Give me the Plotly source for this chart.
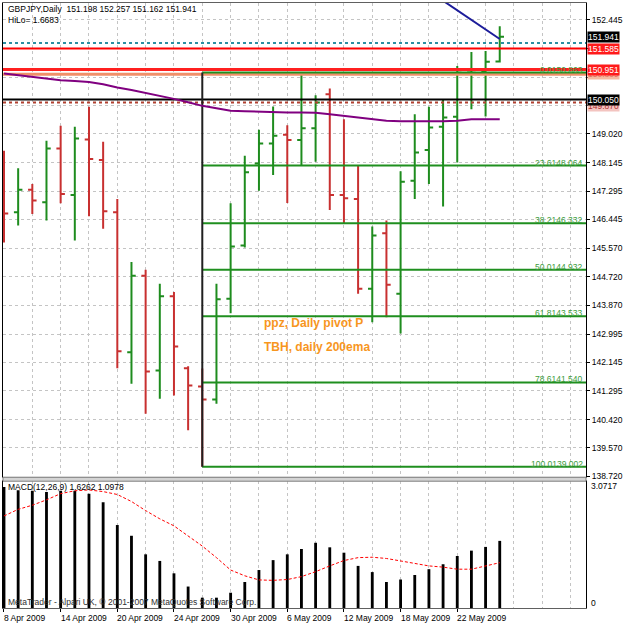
import plotly.graph_objects as go

# ---------------- data ----------------
dates = ["2009-04-08", "2009-04-09", "2009-04-10", "2009-04-13", "2009-04-14", "2009-04-15",
         "2009-04-16", "2009-04-17", "2009-04-20", "2009-04-21", "2009-04-22", "2009-04-23",
         "2009-04-24", "2009-04-27", "2009-04-28", "2009-04-29", "2009-04-30", "2009-05-01",
         "2009-05-04", "2009-05-05", "2009-05-06", "2009-05-07", "2009-05-08", "2009-05-11",
         "2009-05-12", "2009-05-13", "2009-05-14", "2009-05-15", "2009-05-18", "2009-05-19",
         "2009-05-20", "2009-05-21", "2009-05-22", "2009-05-25", "2009-05-26", "2009-05-27"]
opens = [147.00, 146.66, 147.34, 146.96, 148.58, 147.18, 148.85, 148.23, 146.66, 142.45, 144.75, 141.90,
         144.13, 141.97, 141.42, 141.03, 144.06, 145.66, 148.13, 148.73, 148.99, 148.83, 149.19, 150.21,
         147.18, 147.06, 144.36, 146.03, 144.21, 147.61, 148.53, 149.23, 149.53, 150.86, 150.91, 151.198]
highs = [148.51, 147.98, 147.51, 148.81, 149.26, 149.23, 149.83, 148.78, 147.06, 145.16, 144.93, 144.51,
         144.26, 142.03, 141.96, 144.51, 146.93, 148.36, 149.14, 149.84, 149.28, 150.86, 150.18, 150.38,
         149.46, 148.06, 146.23, 146.41, 147.89, 149.61, 149.83, 150.06, 151.06, 151.48, 151.51, 152.257]
lows = [145.75, 146.26, 146.61, 146.41, 146.93, 145.81, 146.54, 146.16, 141.97, 141.50, 140.60, 141.05,
        141.15, 140.10, 139.002, 140.90, 143.62, 145.60, 147.31, 147.78, 146.94, 148.06, 148.18, 146.73,
        146.31, 144.21, 143.35, 143.50, 143.01, 147.06, 147.51, 146.83, 148.16, 149.76, 149.54, 151.162]
closes = [146.62, 147.34, 147.01, 148.58, 147.21, 148.88, 148.26, 146.69, 142.48, 144.75, 141.87, 144.13,
          142.62, 141.45, 141.03, 144.04, 145.63, 147.86, 148.73, 148.96, 148.83, 149.19, 149.96, 147.18,
          147.08, 144.36, 145.96, 144.48, 147.58, 148.46, 149.21, 149.51, 150.93, 150.93, 151.19, 151.941]
ema200 = [150.83, 150.78, 150.71, 150.67, 150.63, 150.61, 150.58, 150.51, 150.41, 150.34, 150.25, 150.18,
          150.07, 149.97, 149.86, 149.79, 149.71, 149.70, 149.68, 149.67, 149.66, 149.66, 149.65, 149.61,
          149.56, 149.49, 149.44, 149.41, 149.40, 149.39, 149.40, 149.40, 149.41, 149.46, 149.46, 149.46]
macd_main = [2.93, 2.85, 2.84, 2.81, 2.84, 2.84, 2.77, 2.56, 2.01, 1.75, 1.30, 1.14,
             0.84, 0.52, 0.25, 0.25, 0.37, 0.63, 0.92, 1.16, 1.30, 1.43, 1.58, 1.47,
             1.34, 1.02, 0.87, 0.63, 0.69, 0.80, 0.94, 1.06, 1.26, 1.39, 1.48, 1.6262]
macd_signal = [2.23, 2.39, 2.49, 2.62, 2.77, 2.84, 2.86, 2.82, 2.75, 2.58, 2.36, 2.16,
               1.99, 1.75, 1.50, 1.22, 0.92, 0.78, 0.68, 0.67, 0.69, 0.76, 0.88, 1.02,
               1.15, 1.22, 1.23, 1.20, 1.14, 1.08, 1.02, 0.99, 0.94, 0.94, 1.02, 1.0978]
macd_max = 3.0717

price_ticks = [138.720, 139.570, 140.420, 141.295, 142.145, 142.995, 143.870, 144.720, 145.570,
               146.445, 147.295, 148.145, 149.020, 149.870, 150.720, 151.595, 152.445]
covered_ticks = [149.870, 150.720, 151.595]   # labels hidden behind the price boxes
label_dates = ["2009-04-08", "2009-04-14", "2009-04-20", "2009-04-24", "2009-04-30",
               "2009-05-06", "2009-05-12", "2009-05-18", "2009-05-22"]
label_texts = ["8 Apr 2009", "14 Apr 2009", "20 Apr 2009", "24 Apr 2009", "30 Apr 2009",
               "6 May 2009", "12 May 2009", "18 May 2009", "22 May 2009"]

fib_pcts = ["0.0", "23.6", "38.2", "50.0", "61.8", "78.6", "100.0"]
fib_prices = [150.863, 148.064, 146.332, 144.932, 143.533, 141.540, 139.002]
fib_anchor_date = "2009-04-28"

level_prices = [151.753, 151.585, 150.951, 150.809, 150.050, 149.960]
level_colors = ["#2b8fa3", "#ff0000", "#ff2020", "#f0906a", "#000000", "#b04030"]
level_widths = [2, 2, 3, 3, 2, 2]
level_dash = ["dot", "solid", "solid", "solid", "solid", "dot"]

box_prices = [149.870, 150.809, 150.050, 150.951, 151.585, 151.941]
box_bg = ["#f3c4c0", "#f6b8a0", "#000000", "#ff1a1a", "#ff1a1a", "#000000"]
box_fg = ["#b03030", "#e07060", "#ffffff", "#ffffff", "#ffffff", "#ffffff"]

trend_dates = ["2009-05-20", "2009-05-27"]
trend_prices = [153.31, 151.87]

header = "GBPJPY,Daily  151.198 152.257 151.162 151.941"
hilo = "HiLo= 1.6683"
macd_title = "MACD(12,26,9) 1.6262 1.0978"
copyright_txt = "MetaTrader - Alpari UK, © 2001-2007 MetaQuotes Software Corp."
notes = ["ppz, Daily pivot P", "TBH, daily 200ema"]
note_prices = [143.34, 142.62]
note_date = "2009-05-04"

# ---------------- figure ----------------
idx = {d: i for i, d in enumerate(dates)}
xs = list(range(len(dates)))
X_MIN, X_MAX = -0.07, 41.09
FONT = "Liberation Sans, Arial, sans-serif"
GRID = "#c4c4c4"

fig = go.Figure()

# horizontal level lines
for p, c, w, d in zip(level_prices, level_colors, level_widths, level_dash):
    fig.add_trace(go.Scatter(x=[X_MIN, X_MAX], y=[p, p], mode="lines",
                             line=dict(color=c, width=w, dash=d), hoverinfo="skip",
                             showlegend=False, xaxis="x", yaxis="y"))

# fibonacci levels
fa = idx[fib_anchor_date]
for p in fib_prices:
    fig.add_trace(go.Scatter(x=[fa, X_MAX], y=[p, p], mode="lines",
                             line=dict(color="#1f8f1f", width=2), hoverinfo="skip",
                             showlegend=False, xaxis="x", yaxis="y"))
fig.add_trace(go.Scatter(x=[fa, fa], y=[fib_prices[0], fib_prices[-1]], mode="lines",
                         line=dict(color="#202020", width=2), hoverinfo="skip",
                         showlegend=False, xaxis="x", yaxis="y"))

# 200 EMA
fig.add_trace(go.Scatter(x=xs, y=ema200, mode="lines", line=dict(color="#800080", width=2),
                         hoverinfo="skip", showlegend=False, xaxis="x", yaxis="y"))

# trend line
fig.add_trace(go.Scatter(x=[idx[d] for d in trend_dates], y=trend_prices, mode="lines",
                         line=dict(color="#1c1c9a", width=2), hoverinfo="skip",
                         showlegend=False, xaxis="x", yaxis="y"))

# price bars
fig.add_trace(go.Ohlc(x=xs, open=opens, high=highs, low=lows, close=closes,
                      increasing=dict(line=dict(color="#1e8c1e", width=2)),
                      decreasing=dict(line=dict(color="#c83030", width=2)),
                      tickwidth=0.3, showlegend=False, xaxis="x", yaxis="y"))

# MACD
fig.add_trace(go.Bar(x=xs, y=macd_main, width=0.2, marker=dict(color="#000000", line=dict(width=0)),
                     showlegend=False, xaxis="x2", yaxis="y2"))
fig.add_trace(go.Scatter(x=xs, y=macd_signal, mode="lines",
                         line=dict(color="#ff0000", width=1, dash="3px,2px"),
                         showlegend=False, xaxis="x2", yaxis="y2"))

label_pos = [idx[d] for d in label_dates]
even_pos = list(range(0, 42, 2))

ann = []
# date labels
for x, t in zip(label_pos, label_texts):
    ann.append(dict(x=x, y=0, xref="x2", yref="paper", text=t, showarrow=False,
                    xanchor="left", yanchor="top", xshift=-2, yshift=-3,
                    font=dict(family=FONT, size=8.5, color="#000000")))
# fib texts
for pct, p in zip(fib_pcts, fib_prices):
    ann.append(dict(x=1, y=p, xref="paper", yref="y", text=f"{pct}{p:.3f}", showarrow=False,
                    xanchor="right", yanchor="bottom", xshift=-2, yshift=-3, borderpad=0,
                    font=dict(family=FONT, size=8.5, color="#3c9c3c")))
# price label boxes
for p, bg, fg in zip(box_prices, box_bg, box_fg):
    ann.append(dict(x=1, y=p, xref="paper", yref="y", text=f"{p:.3f}", showarrow=False,
                    xanchor="left", yanchor="middle", xshift=1, bgcolor=bg, borderpad=0,
                    font=dict(family=FONT, size=8.5, color=fg)))
# header
ann.append(dict(x=0, y=1, xref="paper", yref="paper", text=header, showarrow=False,
                xanchor="left", yanchor="middle", xshift=3, yshift=-6,
                font=dict(family=FONT, size=8.5, color="#000000")))
ann.append(dict(x=0, y=1, xref="paper", yref="paper", text=hilo, showarrow=False,
                xanchor="left", yanchor="middle", xshift=3, yshift=-17,
                font=dict(family=FONT, size=8.5, color="#000000")))
# MACD texts
ann.append(dict(x=0, y=1, xref="paper", yref="y2 domain", text=macd_title, showarrow=False,
                xanchor="left", yanchor="middle", xshift=3, yshift=-6,
                font=dict(family=FONT, size=8.5, color="#000000")))
ann.append(dict(x=0, y=0, xref="paper", yref="y2 domain", text=copyright_txt, showarrow=False,
                xanchor="left", yanchor="middle", xshift=3, yshift=6,
                font=dict(family=FONT, size=8.5, color="#303030")))
ann.append(dict(x=1, y=1, xref="paper", yref="y2 domain", text=f"{macd_max:.4f}", showarrow=False,
                xanchor="left", yanchor="middle", xshift=3, yshift=-5,
                font=dict(family=FONT, size=8.5, color="#000000")))
ann.append(dict(x=1, y=0, xref="paper", yref="y2 domain", text="0", showarrow=False,
                xanchor="left", yanchor="middle", xshift=3, yshift=5,
                font=dict(family=FONT, size=8.5, color="#000000")))
# orange notes
for t, p in zip(notes, note_prices):
    ann.append(dict(x=idx[note_date] + 0.2, y=p, xref="x", yref="y", text=f"<b>{t}</b>",
                    showarrow=False, xanchor="left", yanchor="middle",
                    font=dict(family=FONT, size=12, color="#f7961e")))

H = 606.0
main_bottom = (608 - 477) / H
macd_top = (608 - 481) / H

tick_text = ["" if v in covered_ticks else f"{v:.3f}" for v in price_ticks]

fig.update_layout(
    width=625, height=625,
    margin=dict(l=2, r=35, t=2, b=17),
    paper_bgcolor="#ffffff", plot_bgcolor="#ffffff",
    showlegend=False, hovermode=False,
    xaxis=dict(domain=[0, 1], range=[X_MIN, X_MAX], anchor="y", showticklabels=False,
               tickvals=even_pos, ticks="", showgrid=True, gridcolor=GRID, griddash="3px,3px",
               gridwidth=1, zeroline=False, showline=True, linecolor="#606060", mirror=True,
               rangeslider=dict(visible=False)),
    yaxis=dict(domain=[main_bottom, 1], range=[138.69, 152.954], side="right", anchor="x",
               tickvals=price_ticks, ticktext=tick_text,
               ticks="outside", ticklen=3, tickcolor="#000000",
               tickfont=dict(family=FONT, size=8.5, color="#000000"),
               showgrid=True, gridcolor=GRID, griddash="3px,3px", gridwidth=1, zeroline=False,
               showline=True, linecolor="#000000", linewidth=1, mirror=True),
    xaxis2=dict(domain=[0, 1], range=[X_MIN, X_MAX], anchor="y2", matches="x",
                tickvals=label_pos, ticktext=[""] * len(label_pos), ticks="outside", ticklen=3,
                tickcolor="#000000", showgrid=True, gridcolor=GRID, griddash="3px,3px",
                minor=dict(tickvals=even_pos, showgrid=True, gridcolor=GRID, griddash="3px,3px",
                           ticks=""),
                zeroline=False, showline=True, linecolor="#606060", mirror=True),
    yaxis2=dict(domain=[0, macd_top], range=[0, macd_max], side="right", anchor="x2",
                showticklabels=False, ticks="", showgrid=False, zeroline=False,
                showline=True, linecolor="#000000", linewidth=1, mirror=True),
    annotations=ann,
    shapes=[dict(type="rect", xref="paper", yref="paper", x0=0, x1=1,
                 y0=macd_top, y1=main_bottom, fillcolor="#d4d4d4",
                 line=dict(color="#808080", width=1), layer="above")],
)

fig.write_html("out.html")
